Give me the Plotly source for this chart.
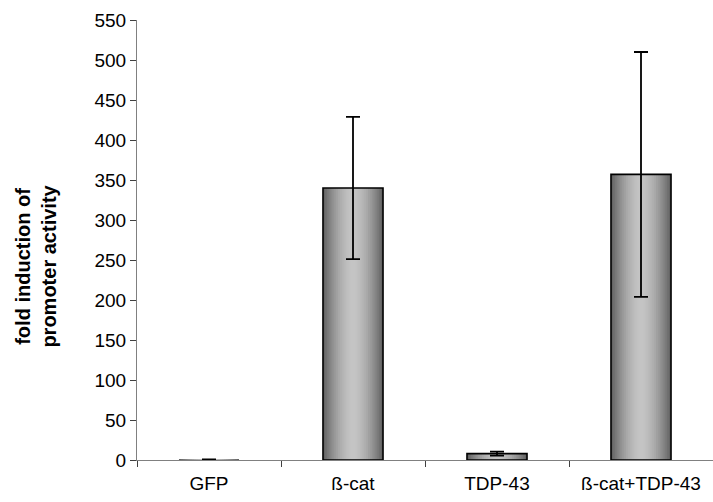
import plotly.graph_objects as go

# Luciferase reporter data
categories = ["GFP", "ß-cat", "TDP-43", "ß-cat+TDP-43"]
fold_induction = [0.3, 340, 8, 357]
error_sd = [0.5, 89, 2.5, 153]
y_ticks = list(range(0, 551, 50))

BAR_WIDTH = 0.417
N_LAYERS = 16
DARK = (100, 100, 100)
LIGHT = (196, 196, 196)

fig = go.Figure()

# Stacked overlay layers of shrinking width give the cylinder-like shading
for i in range(N_LAYERS):
    t = i / (N_LAYERS - 1)
    w = BAR_WIDTH * (1 - i / N_LAYERS)
    # shade eases from dark edge toward light centre
    s = 1 - (1 - t) ** 1.6
    c = tuple(int(round(DARK[k] + (LIGHT[k] - DARK[k]) * s)) for k in range(3))
    fig.add_trace(go.Bar(
        x=categories, y=fold_induction, width=w,
        marker=dict(color=f"rgb{c}", line=dict(width=0)),
        hoverinfo="skip", showlegend=False,
    ))

# Outline and error bars on top (the near-zero GFP bar shows no border)
fig.add_trace(go.Bar(
    x=categories, y=fold_induction, width=BAR_WIDTH,
    marker=dict(color="rgba(0,0,0,0)",
                line=dict(color="black", width=[0, 1.6, 1.6, 1.6])),
    error_y=dict(type="data", array=error_sd, visible=True,
                 color="black", thickness=1.8, width=7),
    showlegend=False,
))

font = "Liberation Sans, Arial, sans-serif"

fig.update_layout(
    width=713, height=502,
    margin=dict(l=137, r=0, t=20, b=42),
    barmode="overlay",
    plot_bgcolor="white", paper_bgcolor="white",
    font=dict(family=font, size=19, color="black"),
    xaxis=dict(
        type="category", range=[-0.5, 3.5],
        showline=True, linecolor="#808080", linewidth=1.2,
        ticks="outside", tickson="boundaries", ticklen=6,
        tickcolor="#404040", tickwidth=1, ticklabelstandoff=6,
        tickfont=dict(family=font, size=19), showgrid=False,
    ),
    yaxis=dict(
        range=[0, 550], tickvals=y_ticks,
        showline=True, linecolor="#808080", linewidth=1.2,
        ticks="outside", ticklen=6, tickcolor="#404040", tickwidth=1,
        tickfont=dict(family=font, size=19), showgrid=False, zeroline=False,
    ),
    annotations=[dict(
        text="<b>fold induction of<br>promoter activity</b>",
        xref="paper", yref="paper", x=-0.175, y=0.44,
        xanchor="center", yanchor="middle", textangle=-90,
        showarrow=False, font=dict(family=font, size=20),
    )],
)

fig.write_html("out.html")
